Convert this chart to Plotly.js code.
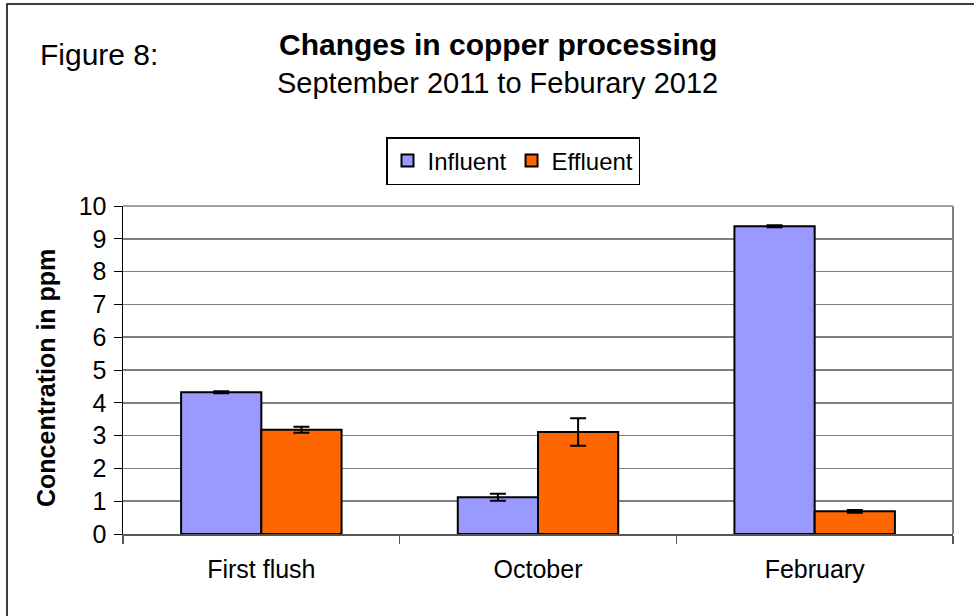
<!DOCTYPE html>
<html>
<head>
<meta charset="utf-8">
<script src="https://cdn.plot.ly/plotly-3.0.1.min.js"></script>
<style>html,body{margin:0;padding:0;background:#fff;}#chart{width:974px;height:616px;}</style>
</head>
<body>
<div id="chart"></div>
<script>
const categories = ["First flush", "October", "February"];
const influent = [4.32, 1.12, 9.38];
const influentErr = [0.03, 0.11, 0.03];
const effluent = [3.18, 3.11, 0.69];
const effluentErr = [0.09, 0.42, 0.04];
const yTicks = [0,1,2,3,4,5,6,7,8,9,10];

const font = "Liberation Sans, Arial, sans-serif";
const L = 123, R = 953, T = 206, B = 534;
const px = x => (x - L) / (R - L);
const py = y => (B - y) / (B - T);

const traces = [
  {type:"bar", name:"Influent", x:categories, y:influent,
   marker:{color:"#9999ff", line:{color:"#000", width:2}},
   error_y:{type:"data", array:influentErr, visible:true, color:"#000", thickness:2, width:8}},
  {type:"bar", name:"Effluent", x:categories, y:effluent,
   marker:{color:"#ff6600", line:{color:"#000", width:2}},
   error_y:{type:"data", array:effluentErr, visible:true, color:"#000", thickness:2, width:8}}
];

const layout = {
  width:974, height:616,
  margin:{l:L, r:974-R, t:T, b:616-B, pad:0},
  paper_bgcolor:"#fff", plot_bgcolor:"#fff",
  font:{family:font, color:"#000", size:24},
  barmode:"group", bargap:0.42, bargroupgap:0,
  showlegend:true,
  legend:{orientation:"h", x:px(386), y:py(137), xanchor:"left", yanchor:"top",
    bordercolor:"#000", borderwidth:1.5, bgcolor:"#fff",
    font:{family:font, size:24, color:"#000"}, itemwidth:30, traceorder:"normal"},
  xaxis:{type:"category", showgrid:false, showline:true, linecolor:"#555", linewidth:2,
    ticks:"outside", tickson:"boundaries", ticklen:8, tickcolor:"#555", tickwidth:1.5,
    tickfont:{family:font, size:25}, ticklabelstandoff:12, mirror:false, fixedrange:true},
  yaxis:{range:[0,10], tickvals:yTicks, ticktext:yTicks.map(String), showgrid:true,
    gridcolor:"#7f7f7f", gridwidth:1.5, zeroline:false, showline:true, linecolor:"#000", linewidth:1.5,
    ticks:"outside", ticklen:8, tickcolor:"#000", tickwidth:1, tickfont:{family:font, size:25},
    ticklabelstandoff:2, fixedrange:true},
  shapes:[
    {type:"line", xref:"paper", yref:"paper", x0:1, x1:1, y0:0, y1:1, line:{color:"#808080", width:2}},
    {type:"line", xref:"paper", yref:"paper", x0:0, x1:1, y0:1, y1:1, line:{color:"#a0a0a0", width:2}},
    {type:"rect", xref:"paper", yref:"paper", x0:px(7), x1:px(1000), y0:py(4), y1:py(700), line:{color:"#000", width:1.5}, fillcolor:"rgba(0,0,0,0)", layer:"below"}
  ],
  annotations:[
    {text:"Figure 8:", xref:"paper", yref:"paper", x:px(38), y:py(55), xanchor:"left", yanchor:"middle", showarrow:false, font:{family:font, size:30}},
    {text:"<b>Changes in copper processing</b>", xref:"paper", yref:"paper", x:px(498), y:py(45), xanchor:"center", yanchor:"middle", showarrow:false, font:{family:font, size:30}},
    {text:"September 2011 to Feburary 2012", xref:"paper", yref:"paper", x:px(497), y:py(83), xanchor:"center", yanchor:"middle", showarrow:false, font:{family:font, size:29}},
    {text:"<b>Concentration in ppm</b>", xref:"paper", yref:"paper", x:px(46), y:py(378), xanchor:"center", yanchor:"middle", textangle:-90, showarrow:false, font:{family:font, size:25}}
  ]
};

Plotly.newPlot("chart", traces, layout, {displayModeBar:false, staticPlot:true});
</script>
</body>
</html>
